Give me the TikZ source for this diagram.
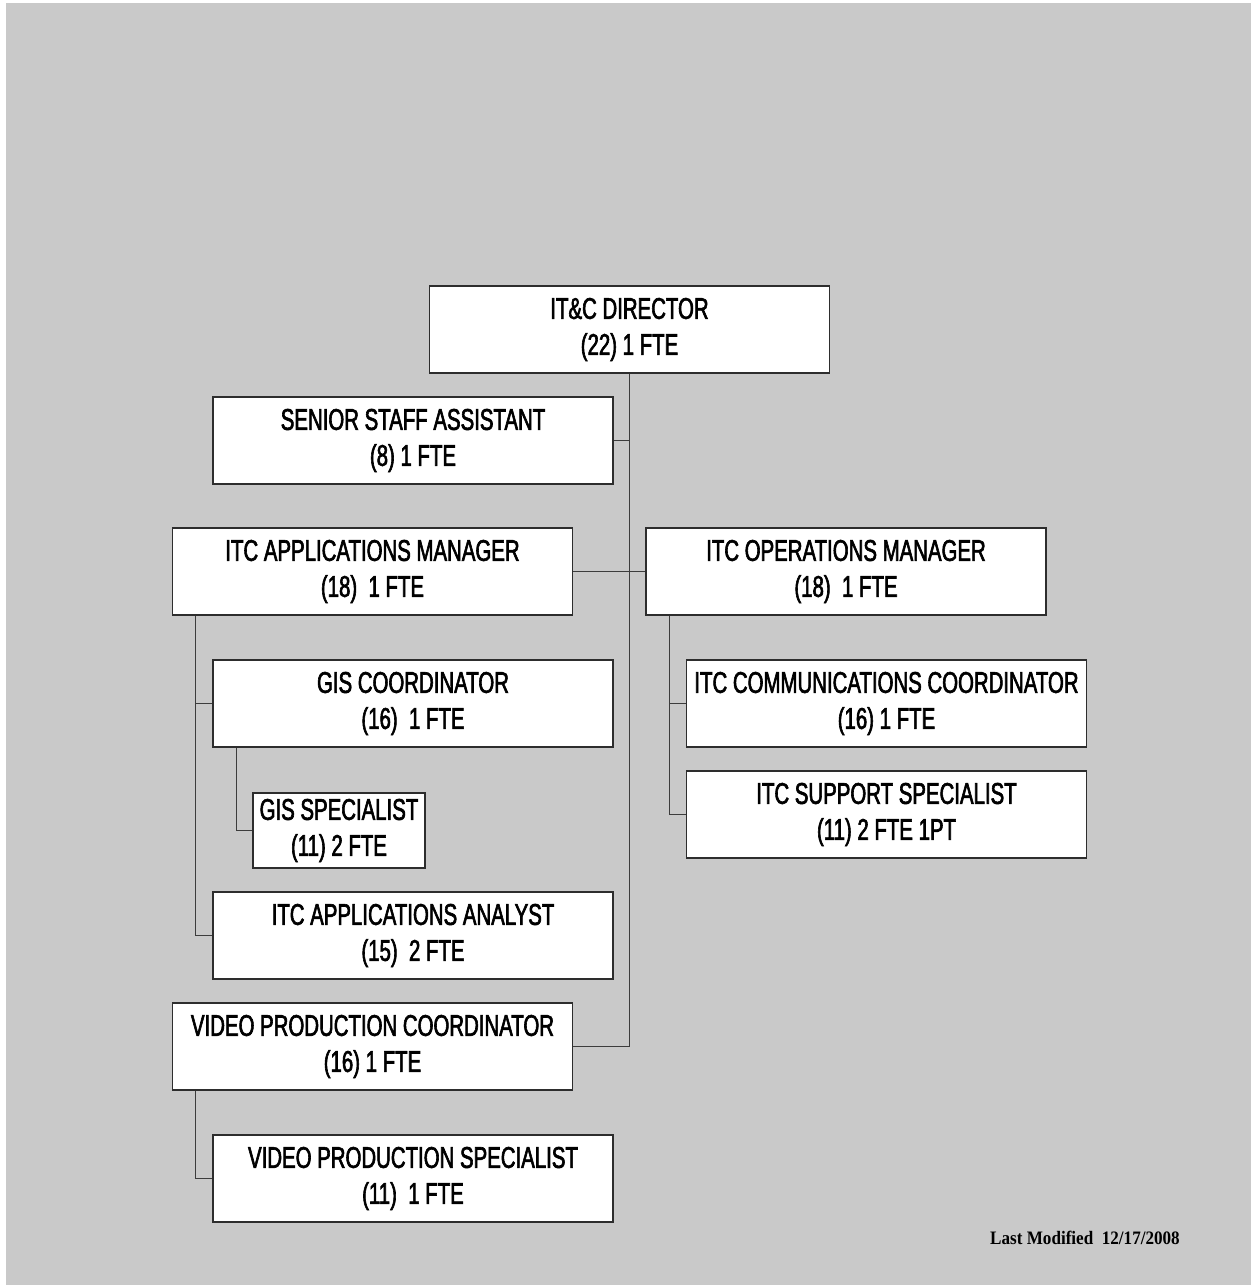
\documentclass[tikz,border=0pt]{standalone}
\usepackage{fontspec}
\newfontfamily\boxfont{Liberation Sans}[FakeStretch=0.68,FakeBold=2]
\newfontfamily\notefont{Liberation Serif}[FakeStretch=0.9]
\definecolor{bgc}{RGB}{201,201,201}
\definecolor{edge}{RGB}{45,45,45}
\definecolor{wire}{RGB}{60,60,60}
\begin{document}
\begin{tikzpicture}[x=1pt,y=-1pt,
  box/.style={draw=edge,fill=white,line width=1.3pt,rectangle,align=center,
    inner sep=0pt,minimum width=400pt,minimum height=87pt,
    font=\boxfont\fontsize{30}{36}\selectfont},
  wirestyle/.style={draw=wire,line width=1pt}]
\useasboundingbox (0,0) rectangle (1251,1285);
\fill[white] (0,0) rectangle (1251,1285);
\fill[bgc] (6,3) rectangle (1251,1285);

\node[box] (dir) at (629.5,329.5) {IT\&C DIRECTOR\\(22) 1 FTE};
\node[box] (ssa) at (413,440.5) {SENIOR STAFF ASSISTANT\\(8) 1 FTE};
\node[box] (appm) at (372.5,571.5) {ITC APPLICATIONS MANAGER\\(18)~ 1 FTE};
\node[box] (opsm) at (846,571.5) {ITC OPERATIONS MANAGER\\(18)~ 1 FTE};
\node[box] (gisc) at (413,703.5) {GIS COORDINATOR\\(16)~ 1 FTE};
\node[box,minimum width=172pt,minimum height=75pt] (giss) at (339,830.5) {GIS SPECIALIST\\(11) 2 FTE};
\node[box] (ana) at (413,935.5) {ITC APPLICATIONS ANALYST\\(15)~ 2 FTE};
\node[box] (vpc) at (372.5,1046.5) {VIDEO PRODUCTION COORDINATOR\\(16) 1 FTE};
\node[box] (vps) at (413,1178.5) {VIDEO PRODUCTION SPECIALIST\\(11)~ 1 FTE};
\node[box] (comm) at (886.5,703.5) {ITC COMMUNICATIONS COORDINATOR\\(16) 1 FTE};
\node[box] (sup) at (886.5,814.5) {ITC SUPPORT SPECIALIST\\(11) 2 FTE 1PT};

\node[font=\notefont\bfseries\fontsize{19}{21}\selectfont,inner sep=0pt] (note) at (1085,1238) {Last Modified~ 12/17/2008};

% connectors
\draw[wirestyle] (dir.south) -- (dir.south |- vpc.east) -- (vpc.east);
\draw[wirestyle] (ssa.east) -- (ssa.east -| dir.south);
\draw[wirestyle] (appm.east) -- (opsm.west);
\coordinate (a) at ([xshift=24pt]appm.south west);
\draw[wirestyle] (a) |- (ana.west);
\draw[wirestyle] (gisc.west) -- (gisc.west -| a);
\coordinate (g) at ([xshift=24pt]gisc.south west);
\draw[wirestyle] (g) |- (giss.west);
\coordinate (o) at ([xshift=24pt]opsm.south west);
\draw[wirestyle] (o) |- (sup.west);
\draw[wirestyle] (comm.west) -- (comm.west -| o);
\coordinate (v) at ([xshift=24pt]vpc.south west);
\draw[wirestyle] (v) |- (vps.west);
\end{tikzpicture}
\end{document}
